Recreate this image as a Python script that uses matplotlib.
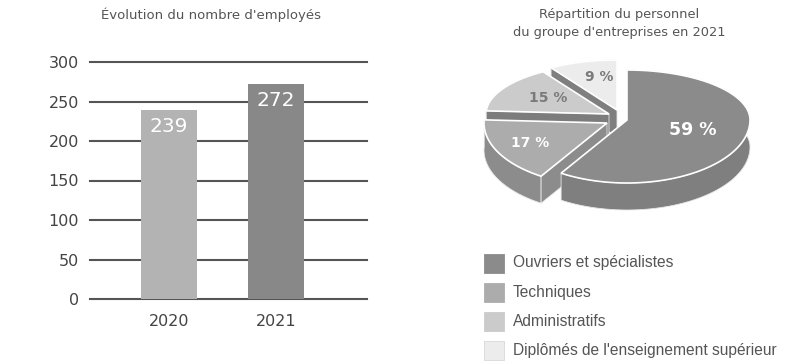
import numpy as np
import matplotlib
matplotlib.use('Agg')
import matplotlib.pyplot as plt
from matplotlib.patches import Polygon, Rectangle

# ---------------- data ----------------
years = ['2020', '2021']
employees = [239, 272]
yticks = [0, 50, 100, 150, 200, 250, 300]
bar_title = "Évolution du nombre d'employés"

categories = ['Ouvriers et spécialistes', 'Techniques', 'Administratifs',
              "Diplômés de l'enseignement supérieur"]
shares = [59, 17, 15, 9]
pie_title = "Répartition du personnel\ndu groupe d'entreprises en 2021"

# ---------------- style ----------------
bar_colors = ['#b3b3b3', '#888888']
top_colors = ['#8b8b8b', '#acacac', '#cbcbcb', '#ececec']
wall_colors = ['#7f7f7f', '#8c8c8c', '#7c7c7c', '#7f7f7f']
label_colors = ['white', 'white', '#7a7a7a', '#7a7a7a']
label_sizes = [12.5, 10, 10, 10]
label_frac = [(0.56, 0.56), (0.70, 0.70), (0.57, 0.64), (0.52, 0.69)]
explode_off = [(0, 0), (-20, 3), (-18, -6), (-10, -10)]  # pixel offsets
TXT = '#444444'

W, H = 800, 364
fig = plt.figure(figsize=(W / 100, H / 100), dpi=100)


def px_box(l, t, r, b):
    return [l / W, 1 - b / H, (r - l) / W, (b - t) / H]


# ---------------- bar chart ----------------
ax = fig.add_axes(px_box(90, 62, 367, 299))
x = np.arange(len(years))
ax.bar(x, employees, width=0.523, color=bar_colors, zorder=3)
ax.set_xlim(-0.738, 1.850)
ax.set_ylim(0, 300)
ax.set_yticks(yticks)
ax.set_xticks(x)
ax.set_xticklabels(years)
ax.grid(axis='y', color='#555555', linewidth=1.5, zorder=0)
for gl in ax.get_ygridlines():
    gl.set_clip_on(False)
ax.set_axisbelow(True)
for s in ax.spines.values():
    s.set_visible(False)
ax.tick_params(axis='y', length=0, pad=8, labelsize=11.5, labelcolor=TXT)
ax.tick_params(axis='x', length=0, pad=11, labelsize=11.5, labelcolor=TXT)
for xi, v in zip(x, employees):
    ax.annotate(str(v), (xi, v), xytext=(0, -12), textcoords='offset points',
                ha='center', va='center', color='white', fontsize=14.5, zorder=4)
fig.text(211 / W, 1 - 15 / H, bar_title, ha='center', va='center',
         fontsize=9.5, color='#555555')

# ---------------- 3D pie ----------------
pax = fig.add_axes([0, 0, 1, 1])
pax.set_xlim(0, W)
pax.set_ylim(H, 0)
pax.axis('off')

cx, cy = 627, 120
rx, ry_top, ry_bot = 123, 50, 63
depth = 27


def ell(t_deg, ox, oy, dz=0):
    t = np.radians(np.atleast_1d(t_deg))
    s = np.sin(t)
    ry = np.where(s > 0, ry_top, ry_bot)
    return np.column_stack([cx + ox + rx * np.cos(t), cy + oy - ry * s + dz])


total = float(sum(shares))
bounds = []
b = 90.0
for sh in shares:
    a = b - 360.0 * sh / total
    bounds.append((a, b))
    b = a

for i in reversed(range(len(shares))):
    a, b = bounds[i]
    ox, oy = explode_off[i]
    ts = np.linspace(a, b, 120)
    top_arc = ell(ts, ox, oy)
    bot_arc = ell(ts, ox, oy, depth)
    apex = np.array([[cx + ox, cy + oy]])
    apex_b = apex + [0, depth]
    # outer rim wall
    wall = np.vstack([top_arc, bot_arc[::-1]])
    pax.add_patch(Polygon(wall, closed=True, facecolor=wall_colors[i],
                          edgecolor='#e6e6e6', linewidth=0.6))
    # radial walls facing the viewer
    for ang, normal in ((a, a - 90), (b, b + 90)):
        if np.sin(np.radians(normal)) < -1e-6:
            rim = ell(ang, ox, oy)
            poly = np.vstack([apex, rim, rim + [0, depth], apex_b])
            pax.add_patch(Polygon(poly, closed=True, facecolor=wall_colors[i],
                                  edgecolor='#e6e6e6', linewidth=0.6))
    # top face
    top = np.vstack([apex, top_arc])
    pax.add_patch(Polygon(top, closed=True, facecolor=top_colors[i],
                          edgecolor='white', linewidth=1.2))
    # label
    mid = np.radians((a + b) / 2)
    fx, fy = label_frac[i]
    sm = np.sin(mid)
    ry = ry_top if sm > 0 else ry_bot
    lx = cx + ox + rx * fx * np.cos(mid)
    ly = cy + oy - ry * fy * sm
    pax.text(lx, ly, f'{shares[i]} %', ha='center', va='center',
             fontsize=label_sizes[i], fontweight='bold', color=label_colors[i])

fig.text(619 / W, 1 - 23.5 / H, pie_title, ha='center', va='center',
         fontsize=9.3, color='#555555', linespacing=1.45)

# ---------------- legend ----------------
row_y = [263, 292, 321, 350]
for i, cat in enumerate(categories):
    y = row_y[i]
    pax.add_patch(Rectangle((484, y - 9.5), 20, 19, facecolor=top_colors[i],
                            edgecolor='#d8d8d8' if i == 3 else top_colors[i],
                            linewidth=0.6))
    pax.text(513, y, cat, ha='left', va='center', fontsize=11.2,
             family='Liberation Sans', color='#555555')

fig.savefig('out.png', dpi=100)
